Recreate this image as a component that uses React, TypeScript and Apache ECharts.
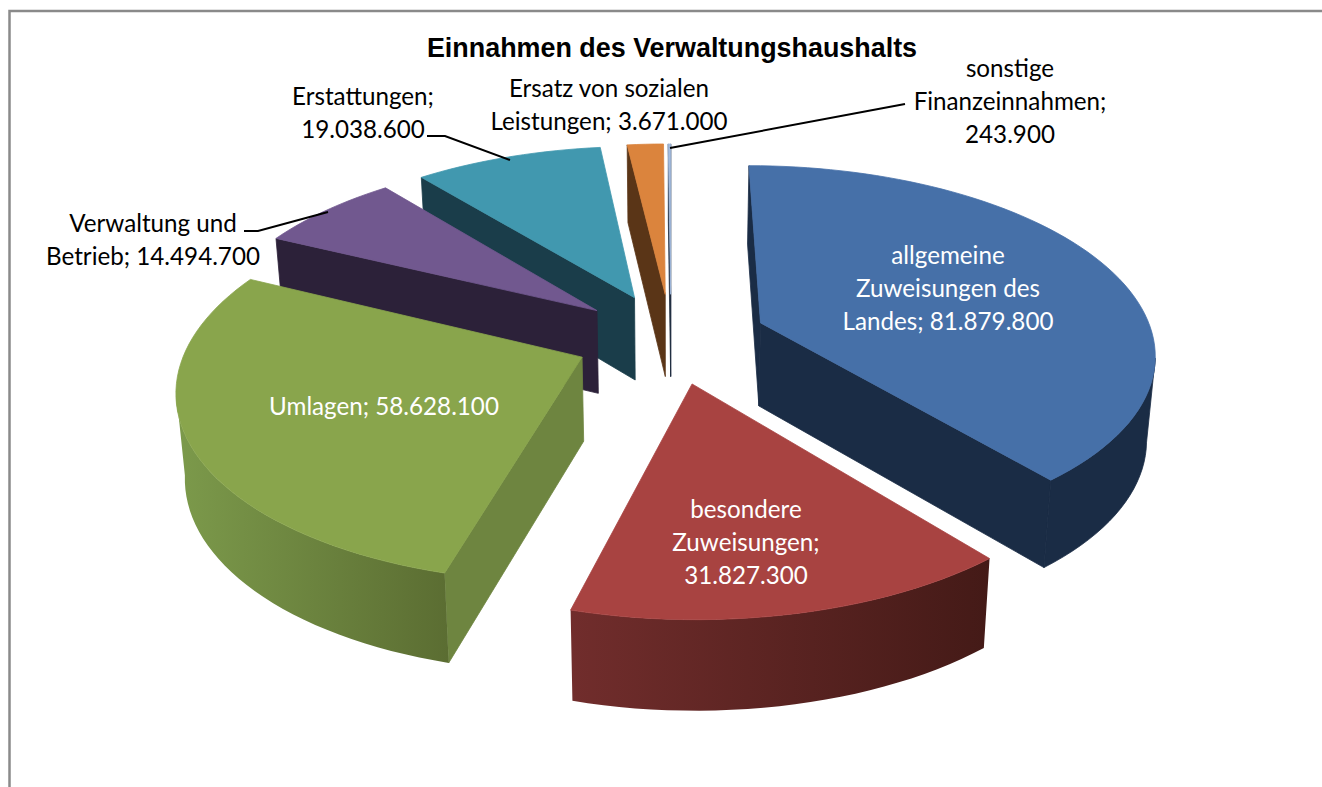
import React, { useEffect, useRef } from "react";
import * as echarts from "echarts";

const categories = [
  "allgemeine Zuweisungen des Landes",
  "besondere Zuweisungen",
  "Umlagen",
  "Verwaltung und Betrieb",
  "Erstattungen",
  "Ersatz von sozialen Leistungen",
  "sonstige Finanzeinnahmen",
];
const values = [81879800, 31827300, 58628100, 14494700, 19038600, 3671000, 243900];
const chartTitle = "Einnahmen des Verwaltungshaushalts";

const labelBreaks = [
  ["allgemeine", "Zuweisungen des", "Landes; "],
  ["besondere", "Zuweisungen;", ""],
  ["Umlagen; "],
  ["Verwaltung und", "Betrieb; "],
  ["Erstattungen;", ""],
  ["Ersatz von sozialen", "Leistungen; "],
  ["sonstige", "Finanzeinnahmen;", ""],
];

const topColors = ["#4670a8", "#a84341", "#89a54c", "#71588f", "#4198af", "#db843d", "#a4bde0"];
const wallColors = ["#1a2c45", "#451c1a", "#6e8540", "#2c2139", "#1a3d4a", "#5a3517", "#1f2d40"];
const outerGradients: [string, string][] = [
  ["#1a2c45", "#1a2c45"],
  ["#712d2c", "#441a17"],
  ["#7c9a4b", "#5b6d32"],
  ["#2c2139", "#2c2139"],
  ["#1a3d4a", "#1a3d4a"],
  ["#5a3517", "#5a3517"],
  ["#1f2d40", "#1f2d40"],
];

const labelPos: [number, number][] = [
  [948, 287],
  [746, 541],
  [384, 405],
  [153, 239],
  [363, 112],
  [609, 104],
  [1010, 100],
];
const labelColors = ["#fff", "#fff", "#fff", "#000", "#000", "#000", "#000"];

const CX = 671, CY = 338, B = 393, A = 185, PERSP = 0.15, EXPLODE = 0.245, DEPTH = 83.5;

const total = values.reduce((a, b) => a + b, 0);
const angles: [number, number][] = [];
{
  let acc = 0;
  for (const v of values) {
    const a0 = (acc / total) * Math.PI * 2;
    acc += v;
    angles.push([a0, (acc / total) * Math.PI * 2]);
  }
}

function project(u: number, v: number) {
  const s = 1 / (1 - PERSP * v);
  return { x: CX + B * u * s, y: CY + A * v * s, s };
}
function apexWorld(i: number) {
  const m = (angles[i][0] + angles[i][1]) / 2;
  return [EXPLODE * Math.sin(m), -EXPLODE * Math.cos(m)];
}
function bottom(p: { x: number; y: number; s: number }): number[] {
  return [CX + (p.x - CX) * 0.982, p.y + DEPTH * Math.pow(p.s, 0.42)];
}

const drawOrder = values.map((_, i) => i).sort((a, b) => apexWorld(a)[1] - apexWorld(b)[1]);

function renderSlice(_: any, api: any) {
  const i = api.value(1) as number;
  const [a0, a1] = angles[i];
  const [ax, ay] = apexWorld(i);
  const apex = project(ax, ay);
  const steps = Math.max(2, Math.ceil(((a1 - a0) / (Math.PI * 2)) * 180));
  const arc = [];
  for (let k = 0; k <= steps; k++) {
    const t = a0 + ((a1 - a0) * k) / steps;
    arc.push(project(ax + Math.sin(t), ay - Math.cos(t)));
  }
  const children: any[] = [];
  const poly = (points: number[][], fill: any, stroke: any = fill) => ({
    type: "polygon",
    shape: { points },
    style: { fill, stroke, lineWidth: 0.8 },
  });
  const first = arc[0];
  const last = arc[arc.length - 1];
  // wall along the closing edge (end -> apex)
  if (apex.x < last.x) {
    children.push(
      poly([[last.x, last.y], [apex.x, apex.y], bottom(apex), bottom(last)], wallColors[i])
    );
  }
  // wall along the opening edge (apex -> start)
  if (first.x < apex.x) {
    children.push(
      poly([[apex.x, apex.y], [first.x, first.y], bottom(first), bottom(apex)], wallColors[i])
    );
  }
  // curved outer wall: segments running leftwards on screen face the viewer
  const vis: typeof arc = [];
  for (let k = 0; k < arc.length - 1; k++) {
    if (arc[k + 1].x < arc[k].x) {
      if (!vis.length) vis.push(arc[k]);
      vis.push(arc[k + 1]);
    }
  }
  if (vis.length > 1) {
    const pts = vis.map((p) => [p.x, p.y]).concat(vis.slice().reverse().map(bottom));
    const [c0, c1] = outerGradients[i];
    const fill =
      c0 === c1
        ? c0
        : new echarts.graphic.LinearGradient(0, 0, 1, 0, [
            { offset: 0, color: c0 },
            { offset: 1, color: c1 },
          ]);
    children.push(poly(pts, fill, c0 === c1 ? c0 : "none"));
  }
  children.push(poly([[apex.x, apex.y], ...arc.map((p) => [p.x, p.y])], topColors[i]));
  return { type: "group", children };
}

const fmt = (n: number) => n.toLocaleString("de-DE");

export default function App() {
  const ref = useRef<HTMLDivElement>(null);
  useEffect(() => {
    const chart = echarts.init(ref.current!, undefined, { renderer: "svg" });
    const labels = labelBreaks.map((lines, i) => ({
      type: "text",
      x: labelPos[i][0],
      y: labelPos[i][1],
      z: 20,
      style: {
        text: lines.map((l, k) => (k === lines.length - 1 ? l + fmt(values[i]) : l)).join("\n"),
        align: "center",
        verticalAlign: "middle",
        fill: labelColors[i],
        font: "24.2px Lato",
        lineHeight: 33,
      },
    }));
    const line = (points: number[][], stroke = "#000", lineWidth = 2) => ({
      type: "polyline",
      z: 15,
      shape: { points },
      style: { stroke, lineWidth, fill: "none" },
    });
    chart.setOption({
      animation: false,
      backgroundColor: "#fff",
      series: [
        {
          type: "custom",
          coordinateSystem: "none",
          silent: true,
          renderItem: renderSlice,
          data: drawOrder.map((i) => ({ name: categories[i], value: [values[i], i] })),
        },
      ],
      graphic: [
        line([[9.5, 787], [9.5, 11], [1322, 11]], "#8a8a8a", 2.5),
        {
          type: "text",
          x: 672,
          y: 48,
          z: 20,
          style: {
            text: chartTitle,
            align: "center",
            verticalAlign: "middle",
            fill: "#000",
            font: 'bold 26.9px "Liberation Sans"',
          },
        },
        line([[244, 231], [258, 231], [328, 212]]),
        line([[427, 136], [445, 136], [510, 160]]),
        line([[905, 104], [670, 148]]),
        ...labels,
      ],
    });
    return () => chart.dispose();
  }, []);
  return <div ref={ref} style={{ position: "fixed", left: 0, top: 0, width: 1322, height: 787 }} />;
}
